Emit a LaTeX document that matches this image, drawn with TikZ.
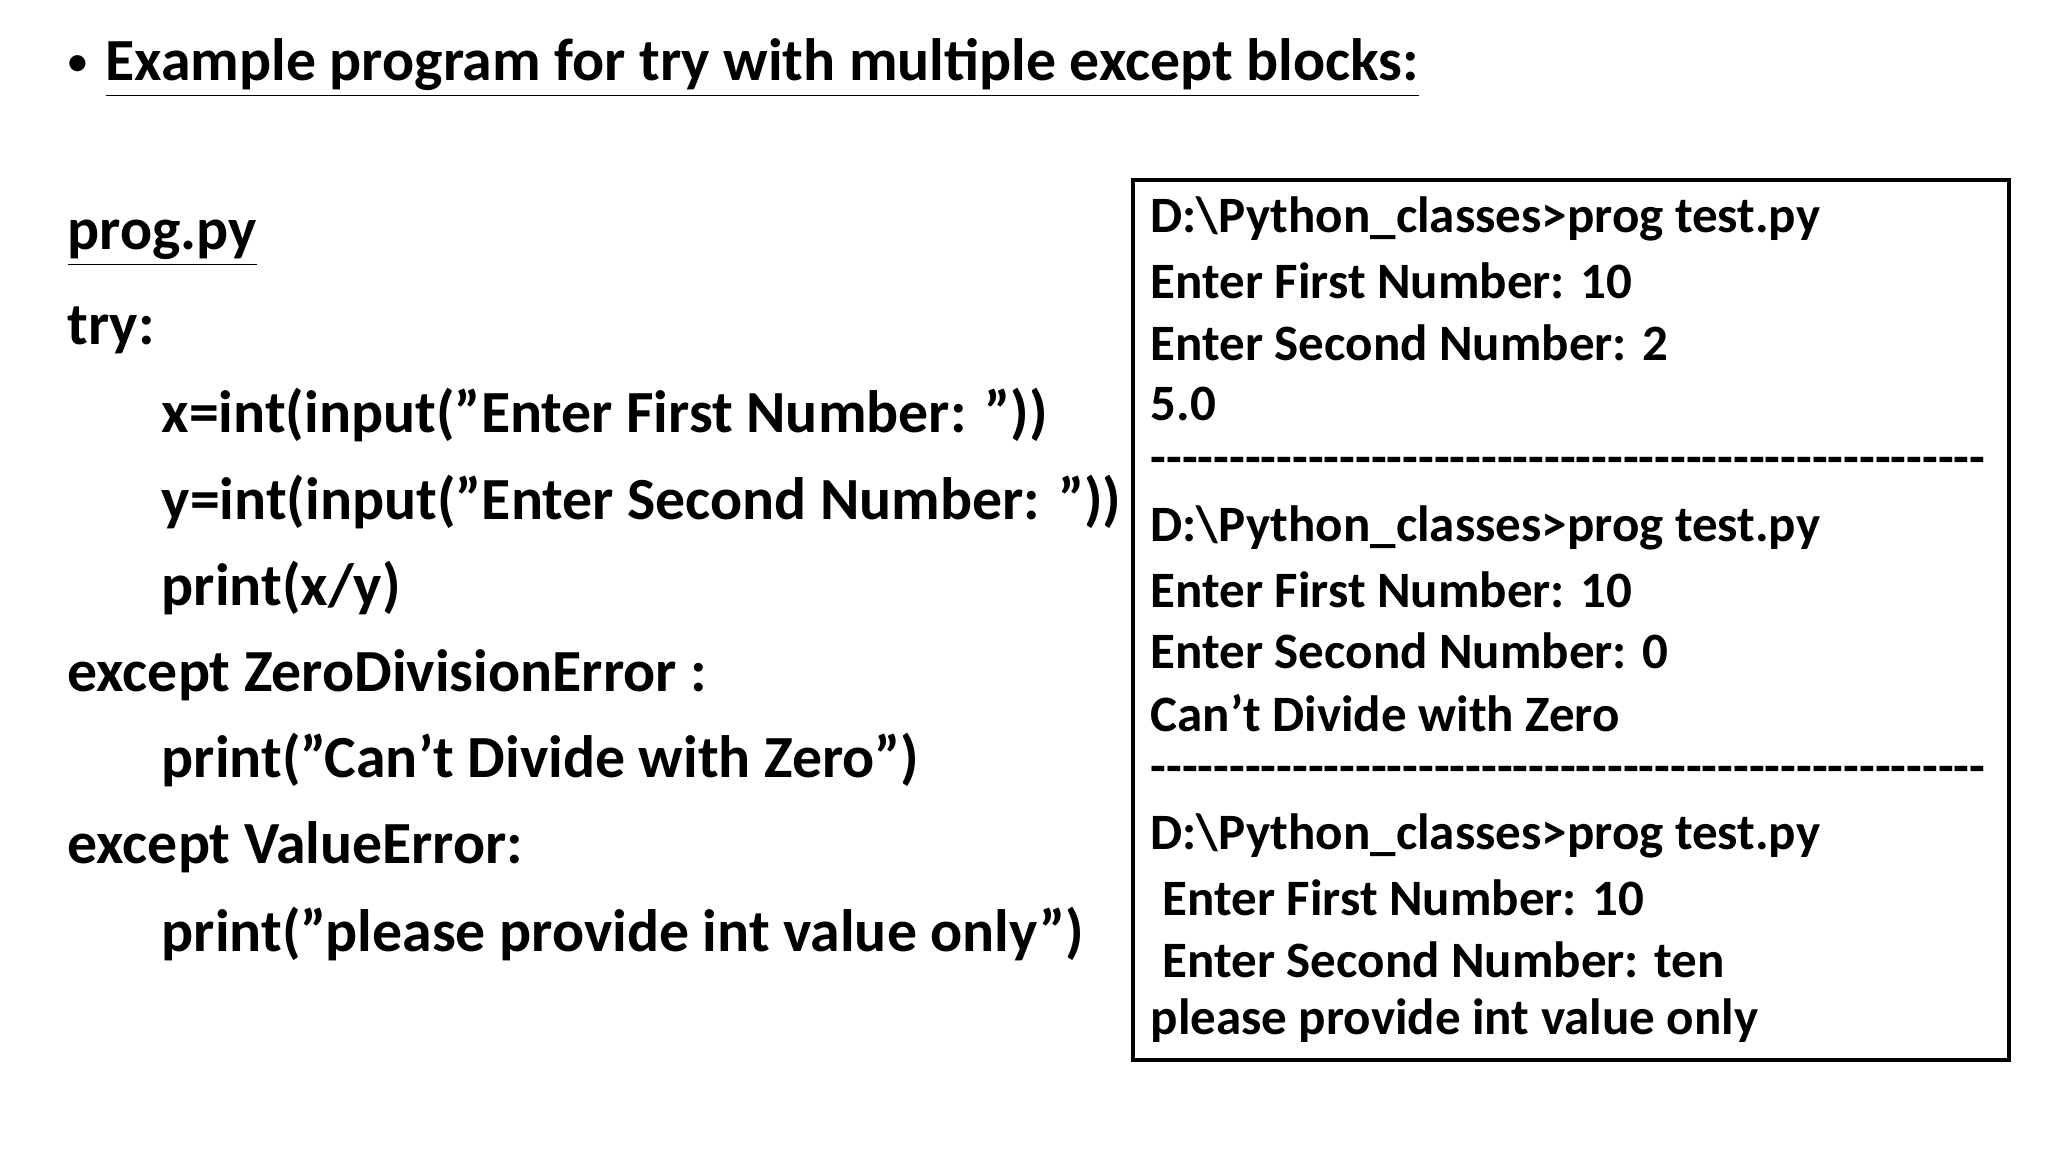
\documentclass[tikz,border=0pt]{standalone}
\usepackage{fontspec}
\setmainfont{Carlito}
\newcommand\dq{\symbol{34}}
\newcommand\sq{\symbol{39}}
\newcommand\hy{\symbol{45}}
\newcommand\hyten{\hy\hy\hy\hy\hy\hy\hy\hy\hy\hy}
\newcommand\hyline{\hyten\hyten\hyten\hyten\hyten\hy\hy\hy}
\begin{document}
\begin{tikzpicture}[x=0.01cm,y=-0.01cm,
 code/.style={anchor=west,inner sep=0pt,font=\bfseries\fontsize{17}{20}\selectfont},
 outtxt/.style={anchor=west,inner sep=0pt,font=\bfseries\fontsize{14.5}{17}\selectfont}]
\useasboundingbox[fill=white] (0,0) rectangle (2048,1152);
\node[code,font=\fontsize{13}{15}\selectfont] (bul) at (66,66) {•};
\node[code] (title) at (105,68) {\underline{Example program for try with multiple except blocks:}};
\node[code] (pp) at (67,243) {\underline{prog.py}};
\node[code] (l1) at (67,330) {try:};
\node[code] (l2) at (161,415) {x=int(input(\dq Enter First Number: \dq))};
\node[code] (l3) at (161,502) {y=int(input(\dq Enter Second Number: \dq))};
\node[code] (l4) at (161,588) {print(x/y)};
\node[code] (l5) at (67,675) {except ZeroDivisionError :};
\node[code] (l6) at (161,760) {print(\dq Can\sq t Divide with Zero\dq)};
\node[code] (l7) at (67,847) {except ValueError:};
\node[code] (l8) at (161,934) {print(\dq please provide int value only\dq)};
\draw[line width=1.2pt] (1133,180) rectangle (2009,1060);
\node[outtxt] (o1) at (1150,219) {D:\textbackslash Python\_classes>prog test.py};
\node[outtxt] (o2) at (1150,281) {Enter First Number: 10};
\node[outtxt] (o3) at (1150,343) {Enter Second Number: 2};
\node[outtxt] (o4) at (1150,404) {5.0};
\node[outtxt] (d1) at (1150,466) {\resizebox{835\dimexpr 0.01cm\relax}{\height}{\hyline}};
\node[outtxt] (o5) at (1150,528) {D:\textbackslash Python\_classes>prog test.py};
\node[outtxt] (o6) at (1150,590) {Enter First Number: 10};
\node[outtxt] (o7) at (1150,651) {Enter Second Number: 0};
\node[outtxt] (o8) at (1150,713) {Can\sq t Divide with Zero};
\node[outtxt] (d2) at (1150,775) {\resizebox{835\dimexpr 0.01cm\relax}{\height}{\hyline}};
\node[outtxt] (o9) at (1150,836) {D:\textbackslash Python\_classes>prog test.py};
\node[outtxt] (o10) at (1162,898) {Enter First Number: 10};
\node[outtxt] (o11) at (1162,960) {Enter Second Number: ten};
\node[outtxt] (o12) at (1150,1021) {please provide int value only};
\end{tikzpicture}
\end{document}
